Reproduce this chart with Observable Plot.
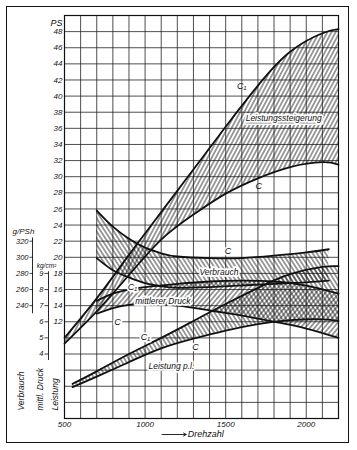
<!DOCTYPE html>
<html><head><meta charset="utf-8">
<script src="https://cdn.jsdelivr.net/npm/d3@7"></script>
<script src="https://cdn.jsdelivr.net/npm/@observablehq/plot@0.6"></script>
<style>
html,body{margin:0;padding:0;background:#fff;}
#wrap{position:relative;width:357px;height:450px;overflow:hidden;}
#chart svg{position:absolute;left:0;top:0;}
#border{position:absolute;left:6px;top:6px;width:341px;height:435px;border:1.5px solid #111;pointer-events:none;}
</style></head><body>
<div id="wrap"><div id="chart"></div><div id="border"></div></div>
<script>
// ---- data ----
const rpmLeistung = [500, 700, 900, 1100, 1300, 1500, 1700, 1900, 2100, 2200];
const leistungC1  = [10, 14.9, 20.3, 25.6, 30.9, 36.2, 41.3, 45.5, 47.8, 48.3];   // PS
const leistungC   = [9.3, 13.3, 17.8, 22.2, 25.3, 27.9, 29.8, 31.2, 31.8, 31.5];  // PS

const rpmVerbrauch = [700, 800, 900, 1000, 1100, 1200, 1400, 1600, 1800, 2000, 2140];
const verbrauchC   = [358, 338, 323, 312, 305, 301, 299, 299, 302, 306, 310];    // g/PSh
const verbrauchC1  = [299, 284, 275, 268, 264, 262, 263, 265, 267, 269, 271];    // g/PSh

const rpmDruck = [700, 800, 900, 1000, 1200, 1400, 1600, 1800, 2000, 2200];
const druckC1  = [7.3, 7.75, 8.0, 8.15, 8.35, 8.5, 8.55, 8.5, 8.25, 7.75];      // kg/cm²
const druckC   = [6.5, 6.85, 7.05, 7.12, 7.0, 6.7, 6.38, 6.0, 5.58, 5.0];       // kg/cm²

const rpmLiter = [550, 700, 900, 1100, 1300, 1500, 1700, 1900, 2100, 2200];
const literC1  = [4.3, 5.85, 8.0, 10.0, 12.1, 14.2, 16.2, 17.9, 18.8, 18.9];     // PS/l
const literC   = [3.9, 5.2, 7.0, 8.7, 9.9, 10.9, 11.7, 12.2, 12.3, 12.1];        // PS/l

// ticks
const rpmTicks = [500, 1000, 1500, 2000];
const psTicks  = [12, 14, 16, 18, 20, 22, 24, 26, 28, 30, 32, 34, 36, 38, 40, 42, 44, 46, 48];
const gTicks   = [240, 260, 280, 300, 320];
const kgTicks  = [4, 5, 6, 7, 8, 9];
const gridRpm  = d3.range(500, 2201, 100);
const gridPS   = d3.range(0, 51, 2);

// secondary scales drawn on the PS axis
const gToY  = g => (g - 100) / 10;
const kgToY = k => 2 * k;

const rowsL = rpmLeistung.map((r, i) => ({rpm: r, c1: leistungC1[i], c: leistungC[i]}));
const rowsV = rpmVerbrauch.map((r, i) => ({rpm: r, c1: gToY(verbrauchC1[i]), c: gToY(verbrauchC[i])}));
const rowsD = rpmDruck.map((r, i) => ({rpm: r, c1: kgToY(druckC1[i]), c: kgToY(druckC[i])}));
const rowsP = rpmLiter.map((r, i) => ({rpm: r, c1: literC1[i], c: literC[i]}));

const curve = "natural";
const ink = "#111";
const F = "Liberation Sans, Arial, sans-serif";
const dash = {draw(ctx) { ctx.moveTo(-2, 0); ctx.lineTo(1.5, 0); }};
const T = (opts) => Object.assign({fontFamily: F, fontStyle: "italic", fill: ink}, opts);
const halo = {stroke: "white", strokeWidth: 3.5};

const bandMarks = (rows, fill) => [
  Plot.areaY(rows, {x: "rpm", y1: "c", y2: "c1", fill, curve}),
  Plot.lineY(rows, {x: "rpm", y: "c1", stroke: ink, strokeWidth: 1.8, curve}),
  Plot.lineY(rows, {x: "rpm", y: "c", stroke: ink, strokeWidth: 1.8, curve})
];

const plot = Plot.plot({
  width: 357, height: 450,
  marginLeft: 64, marginRight: 19, marginTop: 15, marginBottom: 32,
  x: {domain: [500, 2200], axis: null},
  y: {domain: [0, 50], axis: null},
  style: {fontFamily: F, background: "transparent", overflow: "visible"},
  marks: [
    Plot.ruleX(gridRpm, {stroke: "#222", strokeWidth: 0.8}),
    Plot.ruleY(gridPS, {stroke: "#222", strokeWidth: 0.8}),
    ...bandMarks(rowsL, "url(#hA)"),
    ...bandMarks(rowsV, "url(#hV)"),
    ...bandMarks(rowsD, "url(#hD)"),
    ...bandMarks(rowsP, "url(#hL)"),
    Plot.frame({stroke: ink, strokeWidth: 1.2}),

    // x tick labels
    Plot.text(rpmTicks, T({x: d => d, text: d => String(d), frameAnchor: "bottom", dy: 8, fontSize: 8})),
    Plot.text(["Drehzahl"], T({x: 1265, frameAnchor: "bottom", dy: 18, textAnchor: "start", fontSize: 9})),
    Plot.arrow([0], {x1: 1105, x2: 1255, y1: 0, y2: 0, dy: 16, stroke: ink, strokeWidth: 0.9, headLength: 5}),

    // PS axis
    Plot.text(psTicks, T({y: d => d, text: d => String(d), frameAnchor: "left", dx: -2, textAnchor: "end", fontSize: 8})),
    Plot.text(["PS"], T({y: 49.1, frameAnchor: "left", dx: -2, textAnchor: "end", fontSize: 9})),
    // g/PSh axis
    Plot.text(gTicks, T({y: gToY, text: d => String(d), frameAnchor: "left", dx: -36, textAnchor: "end", fontSize: 7.5})),
    Plot.dot(gTicks, {y: gToY, frameAnchor: "left", dx: -33, symbol: dash, stroke: ink, strokeWidth: 0.8}),
    Plot.ruleX([500], {y1: 13, y2: 22.4, dx: -32, stroke: ink, strokeWidth: 0.9}),
    Plot.text(["g/PSh"], T({y: 23.2, frameAnchor: "left", dx: -41, textAnchor: "middle", fontSize: 8})),
    // kg/cm² axis
    Plot.text(kgTicks, T({y: kgToY, text: d => String(d), frameAnchor: "left", dx: -21, textAnchor: "end", fontSize: 7.5})),
    Plot.dot(kgTicks, {y: kgToY, frameAnchor: "left", dx: -18, symbol: dash, stroke: ink, strokeWidth: 0.8}),
    Plot.ruleX([500], {y1: 7.2, y2: 18.2, dx: -16, stroke: ink, strokeWidth: 0.9}),
    Plot.text(["kg/cm²"], T({y: 18.9, frameAnchor: "left", dx: -18, textAnchor: "middle", fontSize: 6.5})),

    // rotated legend words
    Plot.text(["Verbrauch"], T({frameAnchor: "bottom-left", dx: -41, dy: -8, rotate: -90, textAnchor: "start", fontSize: 8.5})),
    Plot.text(["mittl. Druck"], T({frameAnchor: "bottom-left", dx: -22, dy: -8, rotate: -90, textAnchor: "start", fontSize: 8.5})),
    Plot.text(["Leistung"], T({frameAnchor: "bottom-left", dx: -7, dy: -8, rotate: -90, textAnchor: "start", fontSize: 8.5})),

    // curve labels
    Plot.text(["C₁"], T({x: 1600, y: 41.2, fontSize: 9})),
    Plot.text(["Leistungssteigerung"], T({x: 1860, y: 37.2, fontSize: 8.5, ...halo})),
    Plot.text(["C"], T({x: 1705, y: 28.8, fontSize: 9})),
    Plot.text(["C"], T({x: 1515, y: 20.8, fontSize: 9, ...halo})),
    Plot.text(["Verbrauch"], T({x: 1458, y: 18.1, fontSize: 8.5, ...halo})),
    Plot.text(["C₁"], T({x: 921, y: 16.3, fontSize: 9, ...halo})),
    Plot.text(["mittlerer Druck"], T({x: 1110, y: 14.6, fontSize: 8.5, ...halo})),
    Plot.text(["C"], T({x: 829, y: 11.9, fontSize: 9, ...halo})),
    Plot.text(["C₁"], T({x: 1002, y: 10.1, fontSize: 9, ...halo})),
    Plot.text(["C"], T({x: 1312, y: 8.8, fontSize: 9, ...halo})),
    Plot.text(["Leistung p.l."], T({x: 1021, y: 6.45, textAnchor: "start", fontSize: 8.5, ...halo}))
  ]
});

// hatch patterns
const svg = d3.select(plot);
const defs = svg.insert("defs", ":first-child");
function hatch(id, angle, gap, w) {
  defs.append("pattern").attr("id", id).attr("patternUnits", "userSpaceOnUse")
    .attr("width", gap).attr("height", gap).attr("patternTransform", `rotate(${angle})`)
    .append("line").attr("x1", gap / 2).attr("y1", -1).attr("x2", gap / 2).attr("y2", gap + 1)
    .attr("stroke", ink).attr("stroke-width", w);
}
hatch("hA", 28, 3.6, 0.8);
hatch("hV", -33, 3.6, 0.8);
hatch("hD", 40, 3.6, 0.8);
hatch("hL", -32, 3.6, 0.8);
svg.selectAll("text").filter(function() { return this.textContent === "Leistungssteigerung"; })
  .style("text-decoration", "underline");

document.getElementById("chart").appendChild(plot);
</script>
</body></html>
